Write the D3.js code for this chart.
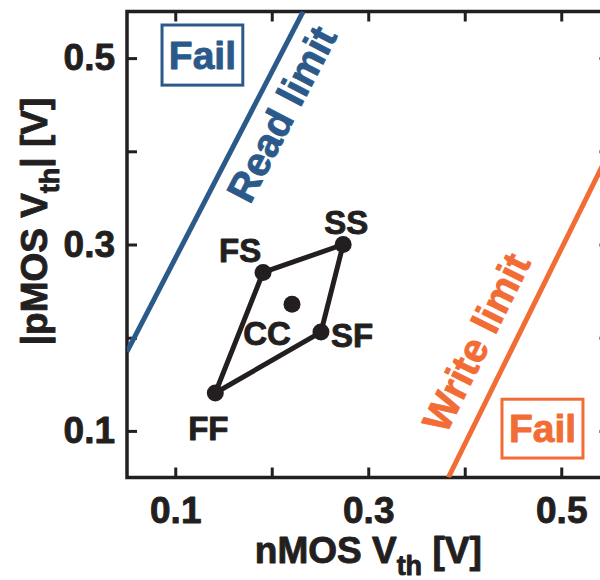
<!DOCTYPE html>
<html>
<head>
<meta charset="utf-8">
<script src="https://cdn.jsdelivr.net/npm/d3@7"></script>
<style>
  body { margin: 0; background: #fff; }
  text { font-family: "Liberation Sans", Arial, sans-serif; font-weight: bold; }
</style>
</head>
<body>
<div id="chart"></div>
<script>
// process corners
const corners = ["FF", "FS", "SS", "SF"];
const cornerN = [0.1415, 0.191, 0.274, 0.251];
const cornerP = [0.1407, 0.270, 0.300, 0.206];
const center = { name: "CC", n: 0.221, p: 0.236 };

// limit lines (endpoints, in volts)
const readLimit = [[0.05, 0.185], [0.2325, 0.55]];
const writeLimit = [[0.383, 0.05], [0.55, 0.40]];

const ticks = [0.1, 0.2, 0.3, 0.4, 0.5];
const tickLabels = [0.1, 0.3, 0.5];

const blue = "#2b5a8a";
const orange = "#f26d35";
const ink = "#231f20";

const width = 600, height = 580;

const x = d3.scaleLinear().domain([0.05, 0.55]).range([127, 609.5]);
const y = d3.scaleLinear().domain([0.05, 0.55]).range([477.5, 11.5]);

const svg = d3.select("#chart").append("svg")
  .attr("width", width)
  .attr("height", height);

svg.append("clipPath").attr("id", "clip")
  .append("rect")
  .attr("x", x(0.05)).attr("y", y(0.55))
  .attr("width", x(0.55) - x(0.05)).attr("height", y(0.05) - y(0.55));

const fmt = d => tickLabels.includes(+d.toFixed(2)) ? d.toFixed(1) : "";

function styleAxis(g) {
  g.select(".domain").remove();
  g.selectAll(".tick line").attr("stroke", ink).attr("stroke-width", 3);
  g.selectAll(".tick text").attr("fill", ink).attr("font-size", 37)
    .attr("font-family", "Liberation Sans, Arial, sans-serif").attr("font-weight", "bold");
}

svg.append("g").attr("transform", `translate(0,${y(0.05)})`)
  .call(d3.axisBottom(x).tickValues(ticks).tickFormat(fmt).tickSizeInner(-10).tickSizeOuter(0).tickPadding(19))
  .call(styleAxis);
svg.append("g").attr("transform", `translate(0,${y(0.55)})`)
  .call(d3.axisTop(x).tickValues(ticks).tickFormat("").tickSizeInner(-10).tickSizeOuter(0))
  .call(styleAxis);
svg.append("g").attr("transform", `translate(${x(0.05)},0)`)
  .call(d3.axisLeft(y).tickValues(ticks).tickFormat(fmt).tickSizeInner(-10).tickSizeOuter(0).tickPadding(12))
  .call(styleAxis);
svg.append("g").attr("transform", `translate(${x(0.55)},0)`)
  .call(d3.axisRight(y).tickValues(ticks).tickFormat("").tickSizeInner(-10).tickSizeOuter(0))
  .call(styleAxis);

// frame
svg.append("rect")
  .attr("x", x(0.05)).attr("y", y(0.55))
  .attr("width", x(0.55) - x(0.05)).attr("height", y(0.05) - y(0.55))
  .attr("fill", "none").attr("stroke", ink).attr("stroke-width", 3.5);

const line = d3.line().x(d => x(d[0])).y(d => y(d[1]));

const plot = svg.append("g").attr("clip-path", "url(#clip)");
plot.append("path").attr("d", line(readLimit))
  .attr("stroke", blue).attr("stroke-width", 5).attr("fill", "none");
plot.append("path").attr("d", line(writeLimit))
  .attr("stroke", orange).attr("stroke-width", 5).attr("fill", "none");

// limit labels along the lines
function angleOf(seg) {
  return Math.atan2(y(seg[1][1]) - y(seg[0][1]), x(seg[1][0]) - x(seg[0][0])) * 180 / Math.PI;
}
const limitLabels = [
  { text: "Read limit", at: [0.1775, 0.342], seg: readLimit, color: blue },
  { text: "Write limit", at: [0.3806, 0.0956], seg: writeLimit, color: orange }
];
svg.selectAll(".limit-label").data(limitLabels).join("text")
  .attr("class", "limit-label")
  .attr("transform", d => `translate(${x(d.at[0])},${y(d.at[1])}) rotate(${angleOf(d.seg)})`)
  .attr("fill", d => d.color)
  .attr("font-size", 40)
  .text(d => d.text);

// Fail boxes
const failBoxes = [
  { x0: 0.0863, x1: 0.170, y0: 0.471, y1: 0.5355, color: blue },
  { x0: 0.4386, x1: 0.5225, y0: 0.0709, y1: 0.134, color: orange }
];
const fb = svg.selectAll(".fail").data(failBoxes).join("g").attr("class", "fail");
fb.append("rect")
  .attr("x", d => x(d.x0)).attr("y", d => y(d.y1))
  .attr("width", d => x(d.x1) - x(d.x0)).attr("height", d => y(d.y0) - y(d.y1))
  .attr("fill", "#fff").attr("stroke", d => d.color).attr("stroke-width", 3);
fb.append("text")
  .attr("x", d => (x(d.x0) + x(d.x1)) / 2)
  .attr("y", d => (y(d.y0) + y(d.y1)) / 2)
  .attr("dy", "0.35em")
  .attr("text-anchor", "middle")
  .attr("font-size", 39)
  .attr("fill", d => d.color)
  .text("Fail");

// corner polygon
const pts = corners.map((c, i) => [cornerN[i], cornerP[i]]);
svg.append("path")
  .attr("d", line(pts.concat([pts[0]])))
  .attr("fill", "none").attr("stroke", ink).attr("stroke-width", 5)
  .attr("stroke-linejoin", "round");

const dots = pts.concat([[center.n, center.p]]);
svg.selectAll(".dot").data(dots).join("circle")
  .attr("class", "dot")
  .attr("cx", d => x(d[0])).attr("cy", d => y(d[1]))
  .attr("r", 8.5).attr("fill", ink);

// corner labels
const labelNames = corners.concat([center.name]);
const labelOffset = { FF: [-7, 47], FS: [-23, -10], SS: [3, -11], SF: [31, 15], CC: [-25, 41] };
svg.selectAll(".corner-label").data(dots).join("text")
  .attr("class", "corner-label")
  .attr("x", (d, i) => x(d[0]) + labelOffset[labelNames[i]][0])
  .attr("y", (d, i) => y(d[1]) + labelOffset[labelNames[i]][1])
  .attr("text-anchor", "middle")
  .attr("font-size", 33)
  .attr("fill", ink)
  .text((d, i) => labelNames[i]);

// axis titles
const xt = svg.append("text")
  .attr("x", (x(0.05) + x(0.55)) / 2).attr("y", 563)
  .attr("text-anchor", "middle").attr("font-size", 37).attr("fill", ink);
xt.append("tspan").text("nMOS V");
xt.append("tspan").attr("font-size", 27).attr("dy", 12).text("th");
xt.append("tspan").attr("dy", -12).text(" [V]");

const yt = svg.append("text")
  .attr("transform", `translate(47,${(y(0.05) + y(0.55)) / 2 - 23}) rotate(-90)`)
  .attr("text-anchor", "middle").attr("font-size", 37).attr("fill", ink);
yt.append("tspan").text("|pMOS V");
yt.append("tspan").attr("font-size", 27).attr("dy", 12).text("th");
yt.append("tspan").attr("dy", -12).text("| [V]");

// the printed figure uses a heavier bold: thicken glyphs a little
svg.selectAll("text")
  .attr("stroke", function() { return this.getAttribute("fill"); })
  .attr("stroke-width", 0.9)
  .attr("stroke-linejoin", "round");
</script>
</body>
</html>
